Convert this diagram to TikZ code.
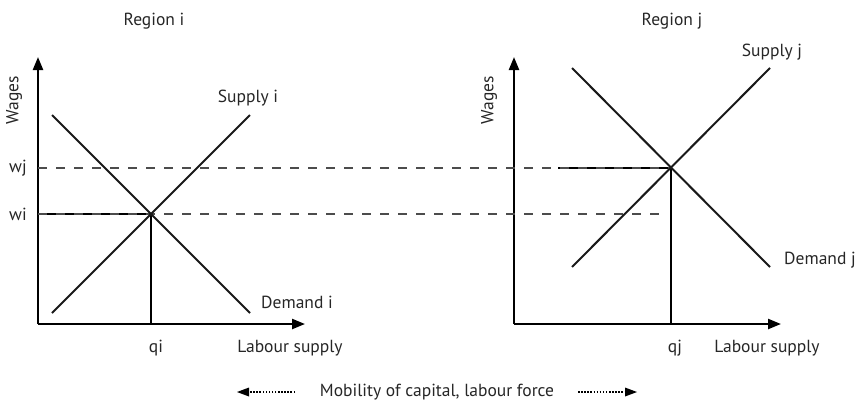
\documentclass[tikz,border=0pt]{standalone}
\usepackage{fontspec}
\setmainfont{PT Sans}
\usetikzlibrary{arrows.meta}
\begin{document}
\begin{tikzpicture}[x=1pt,y=-1pt,
  lbl/.style={inner sep=0pt, font=\fontsize{17.5}{19}\selectfont, text=black!85},
  axis/.style={line width=2.3pt, -{Triangle[length=13pt,width=10pt]}},
  curve/.style={line width=2pt, black!90},
  thin/.style={line width=1.2pt},
  dashline/.style={line width=1.3pt, black!70, dash pattern=on 9pt off 9pt},
  mob/.style={line width=1.3pt, dash pattern=on 1.5pt off 1.6pt},
  mobtip/.style={line width=0.1pt, fill=black}]
\useasboundingbox (0,0) rectangle (859,402);
% ---- left plot coordinates
\coordinate (oi) at (38,324);
\coordinate (yi) at (38,57);
\coordinate (xi) at (305,324);
\coordinate (di1) at (52,115);
\coordinate (di2) at (250,313);
\coordinate (si1) at (52,313);
\coordinate (si2) at (250,115);
\coordinate (ei) at (151,214);
\coordinate (qib) at (151,324);
\coordinate (wia) at (38,214);
\coordinate (wja) at (38,168);
% ---- right plot coordinates
\coordinate (oj) at (514,324);
\coordinate (yj) at (514,57);
\coordinate (xj) at (781,324);
\coordinate (dj1) at (572,68);
\coordinate (dj2) at (770,267);
\coordinate (sj1) at (572,267);
\coordinate (sj2) at (770,68);
\coordinate (ej) at (671,168);
\coordinate (qjb) at (671,324);
\coordinate (wib) at (666,214);
\coordinate (wjs) at (558,168);
% ---- axes
\draw[axis] (oi) -- (yi);
\draw[axis] (oi) -- (xi);
\draw[axis] (oj) -- (yj);
\draw[axis] (oj) -- (xj);
% ---- guide lines
\draw[thin] (wia) -- (ei) -- (qib);
\draw[thin] (wjs) -- (ej) -- (qjb);
\draw[dashline] (wia) -- (wib);
\draw[dashline] (wja) -- (ej);
% ---- curves
\draw[curve] (di1) -- (di2);
\draw[curve] (si1) -- (si2);
\draw[curve] (dj1) -- (dj2);
\draw[curve] (sj1) -- (sj2);
% ---- labels
\node[lbl] (ri) at (154,21) {Region i};
\node[lbl] (rj) at (672,21) {Region j};
\node[lbl, rotate=90] (wgi) at (14,100) {Wages};
\node[lbl, rotate=90] (wgj) at (489,100) {Wages};
\node[lbl] (wjl) at (18,168) {wj};
\node[lbl] (wil) at (18,214) {wi};
\node[lbl] (supi) at (248,98) {Supply i};
\node[lbl] (demi) at (297,302) {Demand i};
\node[lbl] (supj) at (772,52) {Supply j};
\node[lbl] (demj) at (820,260) {Demand j};
\node[lbl] (qil) at (156,348) {qi};
\node[lbl] (qjl) at (675,348) {qj};
\node[lbl] (lsi) at (290,348) {Labour supply};
\node[lbl] (lsj) at (767,348) {Labour supply};
\node[lbl] (mobl) at (437,392) {Mobility of capital, labour force};
% ---- mobility arrows
\coordinate (ml1) at (295,392);
\coordinate (ml2) at (248,392);
\coordinate (ml3) at (237,392);
\coordinate (mr1) at (578,392);
\coordinate (mr2) at (626,392);
\coordinate (mr3) at (637,392);
\draw[mob] (ml1) -- (ml2);
\draw[mob] (mr1) -- (mr2);
\fill (ml3) -- ([shift={(12,-4.5)}]ml3) -- ([shift={(12,4.5)}]ml3) -- cycle;
\fill (mr3) -- ([shift={(-12,-4.5)}]mr3) -- ([shift={(-12,4.5)}]mr3) -- cycle;
\end{tikzpicture}
\end{document}
